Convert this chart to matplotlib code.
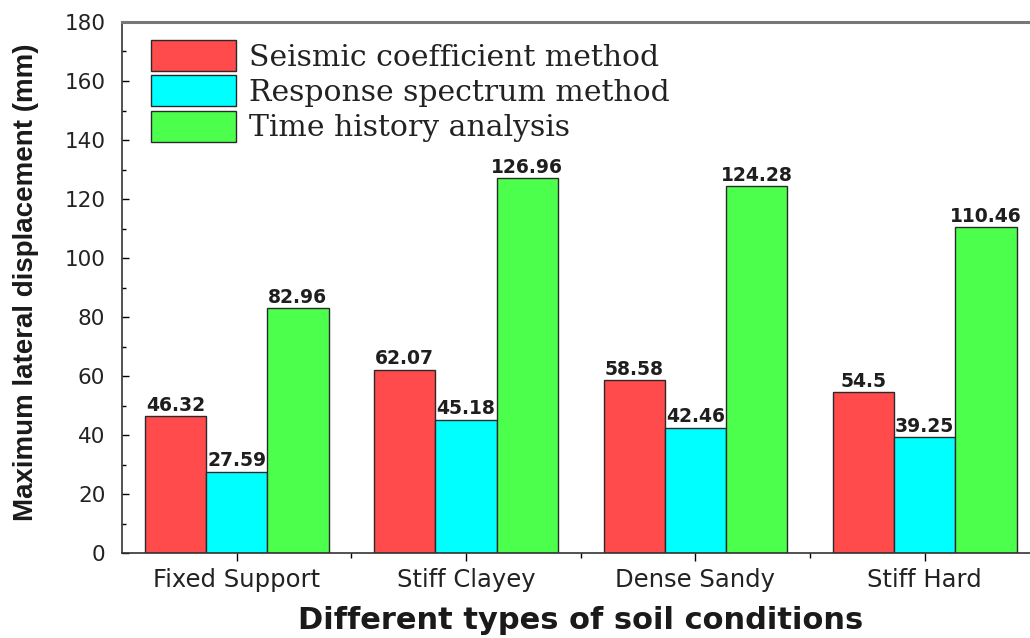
import matplotlib
matplotlib.use("Agg")
import matplotlib.pyplot as plt
import numpy as np
from matplotlib.ticker import MultipleLocator, FixedLocator

categories = ["Fixed Support", "Stiff Clayey", "Dense Sandy", "Stiff Hard"]
series_names = ["Seismic coefficient method", "Response spectrum method", "Time history analysis"]
seismic = [46.32, 62.07, 58.58, 54.5]
response = [27.59, 45.18, 42.46, 39.25]
time_history = [82.96, 126.96, 124.28, 110.46]
labels_seismic = ["46.32", "62.07", "58.58", "54.5"]
labels_response = ["27.59", "45.18", "42.46", "39.25"]
labels_time = ["82.96", "126.96", "124.28", "110.46"]
colors = ["#FF4B4B", "#00FFFF", "#4DFF4D"]

fig = plt.figure(figsize=(10.3, 6.38), dpi=100)
ax = fig.add_axes([122/1030, 1-553/638, (1039.5-122)/1030, (553-22)/638])

x = np.arange(len(categories))
w = 0.267
data = [seismic, response, time_history]
labs = [labels_seismic, labels_response, labels_time]
for i, (vals, lab, c, name) in enumerate(zip(data, labs, colors, series_names)):
    bars = ax.bar(x + (i-1)*w, vals, w, color=c, edgecolor="#2a2a2a", linewidth=1.0, label=name)
    for b, t in zip(bars, lab):
        ax.text(b.get_x()+b.get_width()/2, b.get_height()+0.5, t, ha="center", va="bottom",
                fontsize=13.5, fontweight="bold", family="DejaVu Sans", color="#1e1e1e")

ax.set_xlim(-0.5, 3.5)
ax.set_ylim(0, 180)
ax.set_xticks(x)
ax.set_xticklabels(categories, family="DejaVu Sans", fontsize=17.5, color="#222222")
ax.xaxis.set_minor_locator(FixedLocator([0.5, 1.5, 2.5]))
ax.yaxis.set_major_locator(MultipleLocator(20))
ax.yaxis.set_minor_locator(MultipleLocator(10))
for t in ax.get_yticklabels():
    t.set_family("DejaVu Sans"); t.set_fontsize(15.5); t.set_color("#222222")
ax.tick_params(axis="y", which="major", direction="in", length=5, width=1, pad=12)
ax.tick_params(axis="y", which="minor", direction="in", length=3, width=1)
ax.tick_params(axis="x", which="major", direction="out", length=6, width=1, pad=5)
ax.tick_params(axis="x", which="minor", direction="out", length=3.5, width=1)
for s in ax.spines.values():
    s.set_linewidth(1.2)
    s.set_color("#333333")
ax.spines["top"].set_color("#777777")
ax.spines["top"].set_linewidth(2.2)

ax.set_ylabel("Maximum lateral displacement (mm)", family="Liberation Sans", fontweight="bold",
              fontsize=20, color="#1a1a1a", labelpad=14)
ax.yaxis.set_label_coords(-0.09, 0.51)
ax.set_xlabel("Different types of soil conditions", family="DejaVu Sans", fontweight="bold",
              fontsize=22, color="#1a1a1a", labelpad=10)

leg = ax.legend(loc="upper left", bbox_to_anchor=(151/1030, 1-40/638), bbox_transform=fig.transFigure,
                frameon=False, borderpad=0, borderaxespad=0, handlelength=2.85, handleheight=1.22,
                labelspacing=0.13, handletextpad=0.42, prop={"family": "DejaVu Serif", "size": 21.5})
for t in leg.get_texts():
    t.set_color("#222222")

fig.savefig("out.png", dpi=100)
